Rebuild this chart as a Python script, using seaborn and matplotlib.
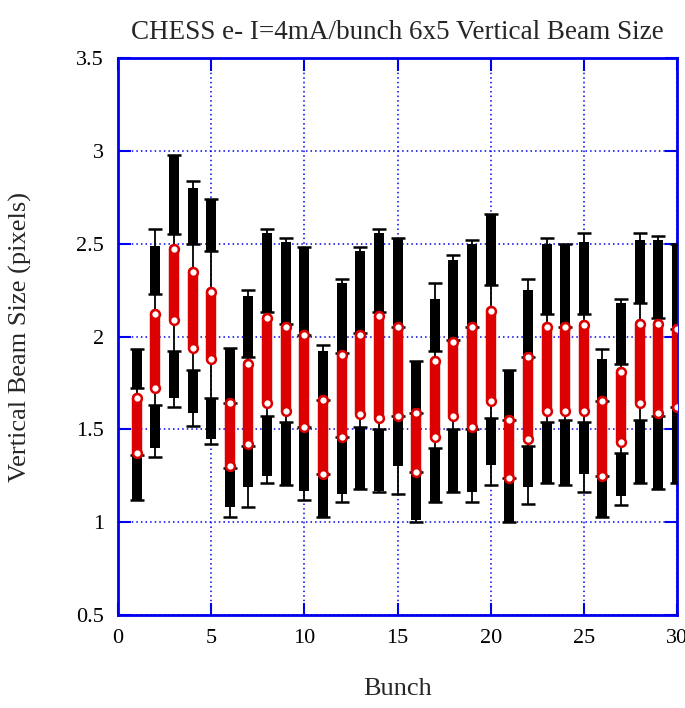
import matplotlib
matplotlib.use("Agg")
import matplotlib.pyplot as plt
import seaborn as sns
import pandas as pd
import numpy as np

# ---- data ----
bunch = list(range(1, 31))
range_lo = [1.12, 1.35, 1.62, 1.52, 1.42, 1.03, 1.08, 1.21, 1.20, 1.12,
            1.03, 1.11, 1.18, 1.16, 1.15, 1.00, 1.11, 1.16, 1.11, 1.20,
            1.00, 1.10, 1.21, 1.20, 1.16, 1.03, 1.09, 1.21, 1.18, 1.21]
range_hi = [1.93, 2.58, 2.98, 2.84, 2.74, 1.94, 2.25, 2.58, 2.53, 2.48,
            1.955, 2.31, 2.48, 2.58, 2.53, 1.87, 2.29, 2.44, 2.52, 2.66,
            1.82, 2.31, 2.53, 2.50, 2.56, 1.93, 2.20, 2.56, 2.54, 2.50]
upper_lo = [1.72, 2.23, 2.55, 2.50, 2.46, 1.64, 1.89, 2.13, 2.07, 2.01,
            1.66, 1.91, 2.02, 2.13, 2.05, 1.59, 1.92, 1.98, 2.05, 2.28,
            1.55, 1.89, 2.12, 2.05, 2.12, 1.65, 1.85, 2.18, 2.10, 2.04]
upper_hi = [1.93, 2.49, 2.98, 2.80, 2.74, 1.93, 2.22, 2.56, 2.51, 2.48,
            1.92, 2.29, 2.46, 2.56, 2.53, 1.87, 2.20, 2.41, 2.50, 2.66,
            1.82, 2.25, 2.50, 2.50, 2.51, 1.88, 2.18, 2.52, 2.52, 2.50]
lower_lo = [1.12, 1.40, 1.67, 1.59, 1.45, 1.08, 1.19, 1.25, 1.20, 1.17,
            1.03, 1.15, 1.18, 1.17, 1.30, 1.01, 1.11, 1.16, 1.16, 1.31,
            1.00, 1.19, 1.21, 1.20, 1.26, 1.03, 1.14, 1.21, 1.18, 1.21]
lower_hi = [1.36, 1.63, 1.92, 1.82, 1.67, 1.29, 1.41, 1.57, 1.54, 1.51,
            1.26, 1.46, 1.51, 1.50, 1.57, 1.27, 1.40, 1.50, 1.50, 1.56,
            1.24, 1.41, 1.54, 1.55, 1.54, 1.25, 1.37, 1.55, 1.57, 1.62]
mean_lo = [1.37, 1.72, 2.09, 1.94, 1.88, 1.30, 1.42, 1.64, 1.60, 1.51,
           1.26, 1.46, 1.58, 1.56, 1.57, 1.27, 1.46, 1.57, 1.51, 1.65,
           1.24, 1.45, 1.60, 1.60, 1.60, 1.25, 1.43, 1.64, 1.59, 1.62]
mean_hi = [1.67, 2.12, 2.47, 2.35, 2.24, 1.64, 1.85, 2.10, 2.05, 2.01,
           1.66, 1.90, 2.01, 2.11, 2.05, 1.59, 1.87, 1.97, 2.05, 2.14,
           1.55, 1.89, 2.05, 2.05, 2.06, 1.65, 1.81, 2.07, 2.07, 2.04]

title = "CHESS e- I=4mA/bunch 6x5 Vertical Beam Size"
xlabel = "Bunch"
ylabel = "Vertical Beam Size (pixels)"
xticks = [0, 5, 10, 15, 20, 25, 30]
yticks = [0.5, 1, 1.5, 2, 2.5, 3, 3.5]
ytick_labels = ["0.5", "1", "1.5", "2", "2.5", "3", "3.5"]

df = pd.DataFrame({"bunch": bunch, "lo": range_lo, "hi": range_hi,
                   "ulo": upper_lo, "uhi": upper_hi,
                   "llo": lower_lo, "lhi": lower_hi,
                   "mlo": mean_lo, "mhi": mean_hi})

sns.set_theme(style="white")
plt.rcParams["font.family"] = ["Liberation Serif", "DejaVu Serif"]

fig = plt.figure(figsize=(6.85, 7.08), dpi=100)
ax = fig.add_axes([118/685, 1-615/708, (677-118)/685, (615-58)/708])

blue = "#0000ee"
red = "#dd0000"

# thin whisker lines
ax.vlines(df["bunch"], df["lo"], df["hi"], color="black", lw=1.3, zorder=2)
# caps at whisker ends and band ends
for col in ["lo", "hi", "ulo", "lhi"]:
    sns.scatterplot(data=df, x="bunch", y=col, marker="_", s=110,
                    color="black", linewidth=1.8, ax=ax, zorder=3,
                    legend=False)
# thick black bands
ax.vlines(df["bunch"], df["ulo"], df["uhi"], color="black", lw=7.2, zorder=3)
ax.vlines(df["bunch"], df["llo"], df["lhi"], color="black", lw=7.2, zorder=3)
# red mean band
rc = ax.vlines(df["bunch"], df["mlo"], df["mhi"], color=red, lw=7.5, zorder=4)
rc.set_capstyle("round")
long = pd.concat([df[["bunch", "mlo"]].rename(columns={"mlo": "v"}),
                  df[["bunch", "mhi"]].rename(columns={"mhi": "v"})])
sns.scatterplot(data=long, x="bunch", y="v", marker="o", s=40,
                facecolor="white", edgecolor=red, linewidth=1.8, ax=ax,
                zorder=5, legend=False)

ax.set_xlim(0, 30)
ax.set_ylim(0.5, 3.5)
ax.set_xticks(xticks)
ax.set_yticks(yticks)
ax.set_yticklabels(ytick_labels)
ax.grid(True, color=blue, linestyle=(0, (1, 2)), linewidth=1.1)
for s in ax.spines.values():
    s.set_color(blue)
    s.set_linewidth(2)
    s.set_visible(True)
ax.tick_params(direction="in", length=9, width=1.5, color=blue,
               labelsize=16, labelcolor="black", top=True, right=True,
               left=True, bottom=True, pad=10)
ax.set_xlabel(xlabel, fontsize=19, labelpad=22)
ax.set_ylabel(ylabel, fontsize=19, labelpad=32)
ax.set_title(title, fontsize=19.5, pad=14)

fig.savefig("out.png", dpi=100)
